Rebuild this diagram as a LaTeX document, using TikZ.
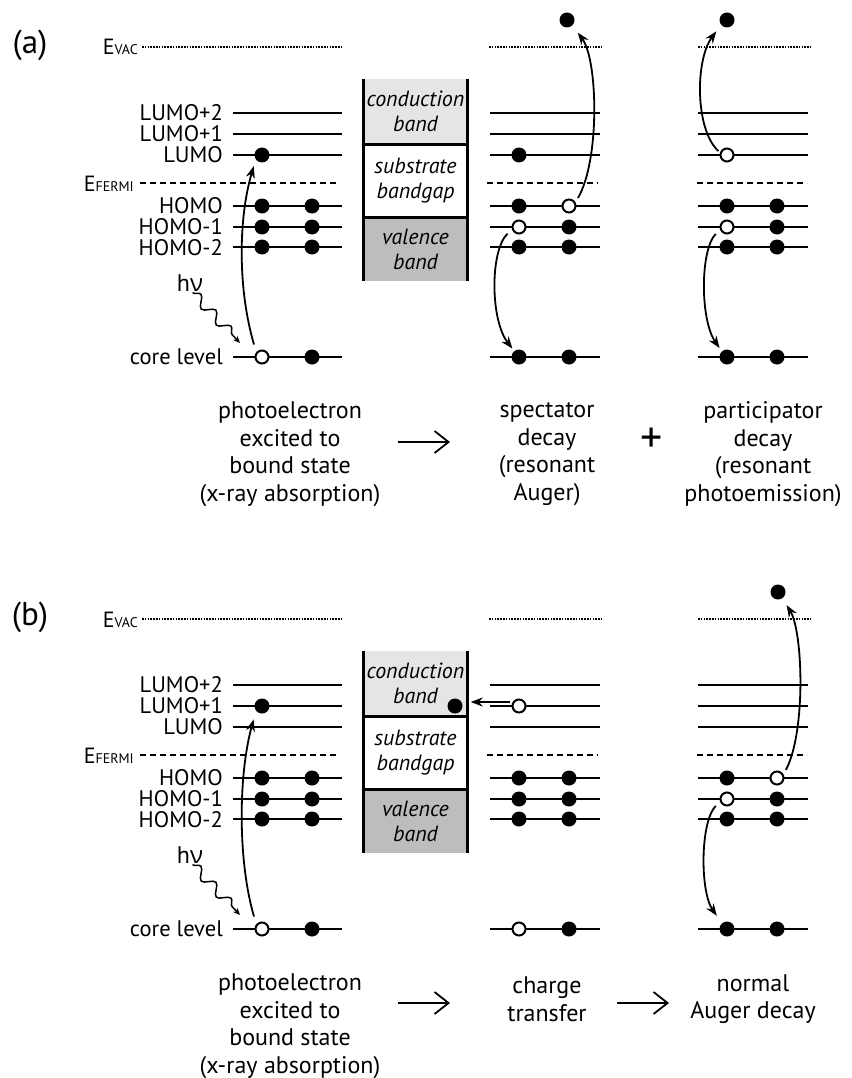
\documentclass[tikz,border=0pt]{standalone}
\usepackage{fontspec}
\setmainfont{PT Sans}
\newfontfamily\greekfont{Open Sans}
\usetikzlibrary{arrows.meta, decorations.pathmorphing}

\tikzset{
  level/.style={line width=2.3pt},
  vaclevel/.style={line width=2.4pt, dash pattern=on 1.6pt off 1.2pt},
  fermilevel/.style={line width=2pt, dash pattern=on 6pt off 4pt},
  elec/.style={circle, fill=black, inner sep=0pt, minimum size=15pt},
  hole/.style={circle, draw=black, fill=white, line width=2pt, inner sep=0pt, minimum size=13pt},
  levlabel/.style={anchor=east, inner sep=0pt, font=\fontsize{22.5}{22.5}\selectfont},
  elabel/.style={anchor=base east, inner sep=0pt, font=\fontsize{22}{22}\selectfont},
  jump/.style={line width=1.8pt, -{Stealth[length=12pt, width=9pt]}},
  photon/.style={line width=1.5pt, decorate,
    decoration={snake, amplitude=5pt, segment length=22pt, post length=7pt},
    -{Stealth[length=7pt, width=6pt]}},
  caption/.style={align=center, font=\fontsize{24}{27.5}\selectfont},
  steparrow/.style={line width=1.8pt, -{Straight Barb[length=14pt, width=22pt]}},
  bandtext/.style={align=center, inner sep=0pt, font=\fontsize{22}{25}\selectfont\itshape},
  bandwall/.style={line width=2.8pt},
}
\newcommand{\esub}[1]{E{\fontsize{14}{14}\selectfont #1}}

\begin{document}
\begin{tikzpicture}[x=1pt, y=-1pt]
\useasboundingbox (0,0) rectangle (851,1078);

% frame shared by both panels
\foreach \p/\dy in {a/0, b/572} {
  \begin{scope}[yshift=-\dy pt]
    \node[font=\fontsize{33}{33}\selectfont] (\p lab) at (30,45) {(\p)};
    % energy levels
    \foreach \xa/\xb in {233/342, 490/600, 698/808}
      \foreach \y in {113, 134, 155, 206, 227, 247, 357}
        \draw[level] (\xa,\y) -- (\xb,\y);
    \foreach \xa/\xb in {142/342, 489/602, 698/811}
      \draw[vaclevel] (\xa,47) -- (\xb,47);
    \foreach \xa/\xb in {140/338, 487/598, 697/807}
      \draw[fermilevel] (\xa,183) -- (\xb,183);
    % level names
    \node[elabel] (\p vac) at (138,55) {\esub{VAC}};
    \node[elabel] (\p fermi) at (134,191) {\esub{FERMI}};
    \foreach \y/\t in {113/LUMO+2, 134/LUMO+1, 155/LUMO, 206/HOMO, 227/HOMO-1, 248/HOMO-2, 357/core level}
      \node[levlabel] at (223,\y) {\t};
    % substrate bands
    \node[bandtext, fill=black!10, minimum width=103pt, minimum height=65pt] (\p cb) at (415.5,111.5) {conduction\\band};
    \node[bandtext, minimum width=103pt, minimum height=74pt] (\p gap) at (415.5,181) {substrate\\bandgap};
    \node[bandtext, fill=black!26, minimum width=103pt, minimum height=63pt] (\p vb) at (415.5,249.5) {valence\\band};
    \draw[bandwall] (\p cb.north west) -- (\p vb.south west);
    \draw[bandwall] (\p cb.north east) -- (\p vb.south east);
    \draw[bandwall] (\p cb.south west) -- (\p cb.south east);
    \draw[bandwall] (\p vb.north west) -- (\p vb.north east);
    % incoming photon
    \node[font=\fontsize{24}{24}\selectfont, inner sep=1pt] (\p hv) at (190,283) {h{\greekfont ν}};
    \coordinate (\p hvend) at (240,343);
    \draw[photon] (\p hv.-75) -- (\p hvend);
  \end{scope}
}

% panel (a): resonant decay channels
\foreach \n/\x/\y in {1L0a/262/155, 1H0a/262/206, 1H0b/312/206, 1H1a/262/227, 1H1b/312/227,
    1H2a/262/247, 1H2b/312/247, 1Cb/312/357,
    2L0a/519/155, 2H0a/519/206, 2H1b/569/227, 2H2a/519/247, 2H2b/569/247,
    2Ca/519/357, 2Cb/569/357, 2out/567/20,
    3H0a/727/206, 3H0b/777/206, 3H1b/777/227, 3H2a/727/247, 3H2b/777/247,
    3Ca/727/357, 3Cb/777/357, 3out/727/20}
  \node[elec] (a\n) at (\x,\y) {};
\foreach \n/\x/\y in {1Ca/262/357, 2H0b/569/206, 2H1a/519/227, 3L0a/727/155, 3H1a/727/227}
  \node[hole] (a\n) at (\x,\y) {};

\draw[jump, shorten <=8pt, shorten >=7pt] (a1Ca.140) .. controls (238,290) and (238,220) .. (a1L0a.215);
\draw[jump, shorten <=5pt, shorten >=9pt] (a2H0b.30) .. controls (600,160) and (598,60) .. (a2out.-45);
\draw[jump, shorten <=6pt, shorten >=3pt] (a2H1a.200) .. controls (490,250) and (490,320) .. (a2Ca.128);
\draw[jump, shorten <=2pt, shorten >=8pt] (a3L0a.160) .. controls (695,130) and (695,60) .. (a3out.220);
\draw[jump, shorten <=6pt, shorten >=4pt] (a3H1a.200) .. controls (700,250) and (700,320) .. (a3Ca.132);

\node[caption] (acap1) at (290,454) {photoelectron\\excited to\\bound state\\(x-ray absorption)};
\node[caption] (acap2) at (547,454) {spectator\\decay\\(resonant\\Auger)};
\node[caption] (acap3) at (763,454) {participator\\decay\\(resonant\\photoemission)};
\coordinate (astep1a) at (398,442);
\coordinate (astep1b) at (450,442);
\draw[steparrow] (astep1a) -- (astep1b);
\node[font=\fontsize{44}{44}\selectfont] (aplus) at (652,440) {+};

% panel (b): charge transfer, then normal Auger
\begin{scope}[yshift=-572pt]
  \foreach \n/\x/\y in {1L1a/262/134, 1H0a/262/206, 1H0b/312/206, 1H1a/262/227, 1H1b/312/227,
      1H2a/262/247, 1H2b/312/247, 1Cb/312/357,
      2cb/455/134, 2H0a/519/206, 2H0b/569/206, 2H1a/519/227, 2H1b/569/227,
      2H2a/519/247, 2H2b/569/247, 2Cb/569/357,
      3H0a/727/206, 3H1b/777/227, 3H2a/727/247, 3H2b/777/247,
      3Ca/727/357, 3Cb/777/357, 3out/778/20}
    \node[elec] (b\n) at (\x,\y) {};
  \foreach \n/\x/\y in {1Ca/262/357, 2L1a/519/134, 2Ca/519/357, 3H0b/777/206, 3H1a/727/227}
    \node[hole] (b\n) at (\x,\y) {};

  \draw[jump, shorten <=8pt, shorten >=9pt] (b1Ca.140) .. controls (238,290) and (238,205) .. (b1L1a.218);
  \draw[jump, shorten <=2pt, shorten >=8pt] ([yshift=4pt]b2L1a.west) -- ([yshift=4pt]b2cb.east);
  \draw[jump, shorten <=5pt, shorten >=8pt] (b3H0b.29) .. controls (806,160) and (803,60) .. (b3out.-55);
  \draw[jump, shorten <=6pt, shorten >=9pt] (b3H1a.200) .. controls (700,250) and (700,320) .. (b3Ca.130);

  \node[caption] (bcap1) at (290,454) {photoelectron\\excited to\\bound state\\(x-ray absorption)};
  \node[caption] (bcap2) at (547,427) {charge\\transfer};
  \node[caption] (bcap3) at (753,427) {normal\\Auger decay};
  \coordinate (bstep1a) at (398,431);
  \coordinate (bstep1b) at (450,431);
  \coordinate (bstep2a) at (617,431);
  \coordinate (bstep2b) at (669,431);
  \draw[steparrow] (bstep1a) -- (bstep1b);
  \draw[steparrow] (bstep2a) -- (bstep2b);
\end{scope}
\end{tikzpicture}
\end{document}
